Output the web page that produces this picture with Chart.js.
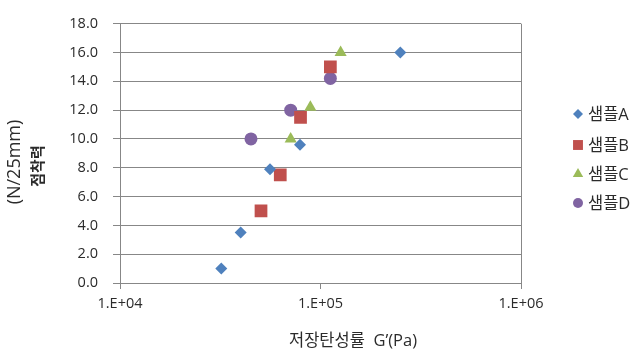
<!DOCTYPE html>
<html>
<head>
<meta charset="utf-8">
<script src="https://cdn.jsdelivr.net/npm/chart.js@4/dist/chart.umd.min.js"></script>
<style>
  html, body { margin: 0; padding: 0; background: #fff; }
</style>
</head>
<body>
<canvas id="chart" width="634" height="352"></canvas>
<script>
// 데이터
const seriesNames = ['샘플A', '샘플B', '샘플C', '샘플D'];
const sampleA_G = [32000, 40000, 56000, 79000, 250000];
const sampleA_F = [1.0, 3.5, 7.9, 9.6, 16.0];
const sampleB_G = [50500, 63000, 79500, 112000];
const sampleB_F = [5.0, 7.5, 11.5, 15.0];
const sampleC_G = [71000, 89000, 126000];
const sampleC_F = [10.0, 12.2, 16.0];
const sampleD_G = [45000, 71000, 112000];
const sampleD_F = [10.0, 12.0, 14.2];
const xTickValues = [1e4, 1e5, 1e6];
const xTickLabels = ['1.E+04', '1.E+05', '1.E+06'];

const FONT = "'Open Sans', 'Noto Sans CJK KR', sans-serif";
const gridColor = '#878787';
const textColor = '#2b2b2b';

const toPoints = (xs, ys) => xs.map((x, i) => ({ x: x, y: ys[i] }));

const styles = [
    { color: '#4f81bd', pointStyle: 'rectRot', radius: 6, legendRadius: 5 },
    { color: '#c0504d', pointStyle: 'rect', radius: 9, legendRadius: 7 },
    { color: '#9bbb59', pointStyle: 'triangle', radius: 7, legendRadius: 6 },
    { color: '#8064a2', pointStyle: 'circle', radius: 6.5, legendRadius: 5 }
];
const seriesData = [
    toPoints(sampleA_G, sampleA_F),
    toPoints(sampleB_G, sampleB_F),
    toPoints(sampleC_G, sampleC_F),
    toPoints(sampleD_G, sampleD_F)
];

// 축 제목 + 범례를 직접 그림
const extrasPlugin = {
    id: 'extras',
    afterDraw(chart) {
        const ctx = chart.ctx;
        ctx.save();
        ctx.fillStyle = textColor;
        ctx.textAlign = 'center';
        ctx.textBaseline = 'middle';

        // y 축 제목
        ctx.save();
        ctx.translate(15, 162);
        ctx.rotate(-Math.PI / 2);
        ctx.font = "18px " + FONT;
        ctx.fillText('(N/25mm)', 0, 0);
        ctx.restore();
        ctx.save();
        ctx.translate(39, 166);
        ctx.rotate(-Math.PI / 2);
        ctx.font = "bold 15px " + FONT;
        ctx.fillText('점착력', 0, 0);
        ctx.restore();

        // x 축 제목
        ctx.font = "16.5px " + FONT;
        ctx.fillText('저장탄성률  G’(Pa)', 353, 341);

        // 범례
        const rowY = [114, 145, 174, 203];
        chart.data.datasets.forEach((ds, i) => {
            const st = styles[i];
            ctx.fillStyle = st.color;
            Chart.helpers.drawPoint(ctx, {
                pointStyle: st.pointStyle, rotation: 0,
                radius: st.legendRadius, borderWidth: 0
            }, 578, rowY[i]);
            ctx.fillStyle = textColor;
            ctx.textAlign = 'left';
            ctx.font = "16.5px " + FONT;
            ctx.fillText(ds.label, 588, rowY[i] + 1);
        });
        ctx.restore();
    }
};

new Chart(document.getElementById('chart'), {
    type: 'scatter',
    data: {
        datasets: seriesNames.map((name, i) => ({
            label: name,
            data: seriesData[i],
            pointStyle: styles[i].pointStyle,
            pointRadius: styles[i].radius,
            pointHoverRadius: styles[i].radius,
            backgroundColor: styles[i].color,
            borderColor: styles[i].color,
            borderWidth: 0
        }))
    },
    options: {
        responsive: false,
        animation: false,
        layout: { padding: { top: 11, right: 113, left: 0, bottom: 0 } },
        plugins: {
            legend: { display: false },
            tooltip: { enabled: false }
        },
        scales: {
            x: {
                type: 'logarithmic',
                min: 1e4,
                max: 1e6,
                afterBuildTicks: s => { s.ticks = xTickValues.map(v => ({ value: v })); },
                afterFit: s => { s.height = 69; },
                ticks: {
                    color: textColor,
                    font: { family: FONT, size: 14.5 },
                    padding: 6,
                    maxRotation: 0,
                    autoSkip: false,
                    callback: v => xTickLabels[xTickValues.indexOf(v)]
                },
                grid: {
                    color: c => (c.tick && c.tick.value === 1e6) ? gridColor : 'rgba(0,0,0,0)',
                    tickColor: gridColor,
                    tickLength: 6,
                    lineWidth: 1
                },
                border: { color: gridColor, width: 1 }
            },
            y: {
                min: 0,
                max: 18,
                afterFit: s => { s.width = 120; },
                ticks: {
                    stepSize: 2,
                    color: textColor,
                    font: { family: FONT, size: 14.5 },
                    padding: 15,
                    callback: v => v.toFixed(1)
                },
                grid: {
                    color: gridColor,
                    tickColor: gridColor,
                    tickLength: 7,
                    lineWidth: 1
                },
                border: { color: gridColor, width: 1 }
            }
        }
    },
    plugins: [extrasPlugin]
});
</script>
</body>
</html>
